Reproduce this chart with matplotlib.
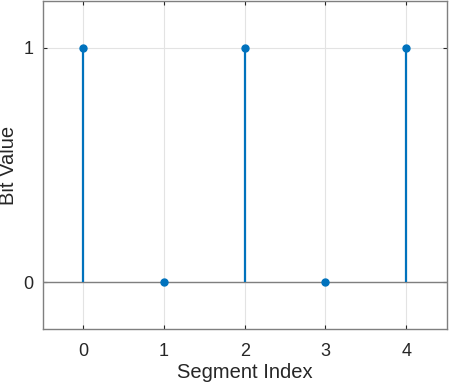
import matplotlib
matplotlib.use('Agg')
from matplotlib import pyplot as plt

segments = [0, 1, 2, 3, 4]
bits = [1, 0, 1, 0, 1]
xtick_labels = ['0', '1', '2', '3', '4']

plt.rcParams['font.family'] = ['Liberation Sans', 'DejaVu Sans']

fig = plt.figure(figsize=(4.49, 3.86), dpi=100)
ax = fig.add_axes([43 / 449, (386 - 329) / 386, (446.5 - 43) / 449, (328.5 - 0.5) / 386])

blue = '#0072BD'
markerline, stemlines, baseline = ax.stem(segments, bits, basefmt=' ')
plt.setp(stemlines, color=blue, linewidth=1.6)
plt.setp(markerline, color=blue, markersize=5)
ax.axhline(0, color='#7f7f7f', linewidth=1.0, zorder=1)

ax.set_xlim(-0.5, 4.5)
ax.set_ylim(-0.2, 1.2)
ax.set_xticks(segments)
ax.set_xticklabels(xtick_labels)
ax.set_yticks([0, 1])
ax.grid(True, color='#e3e3e3', linewidth=0.8)
ax.set_axisbelow(True)

for sp in ax.spines.values():
    sp.set_color('#7f7f7f')
    sp.set_linewidth(1.0)
ax.tick_params(direction='in', length=3, colors='#262626', labelsize=13,
               top=True, right=True)
ax.tick_params(axis='x', pad=10)
ax.tick_params(axis='y', pad=7)

ax.set_xlabel('Segment Index', fontsize=14.5, color='#262626', labelpad=2.5)
ax.set_ylabel('Bit Value', fontsize=14.5, color='#262626', labelpad=4)

fig.savefig('out.png', dpi=100)
